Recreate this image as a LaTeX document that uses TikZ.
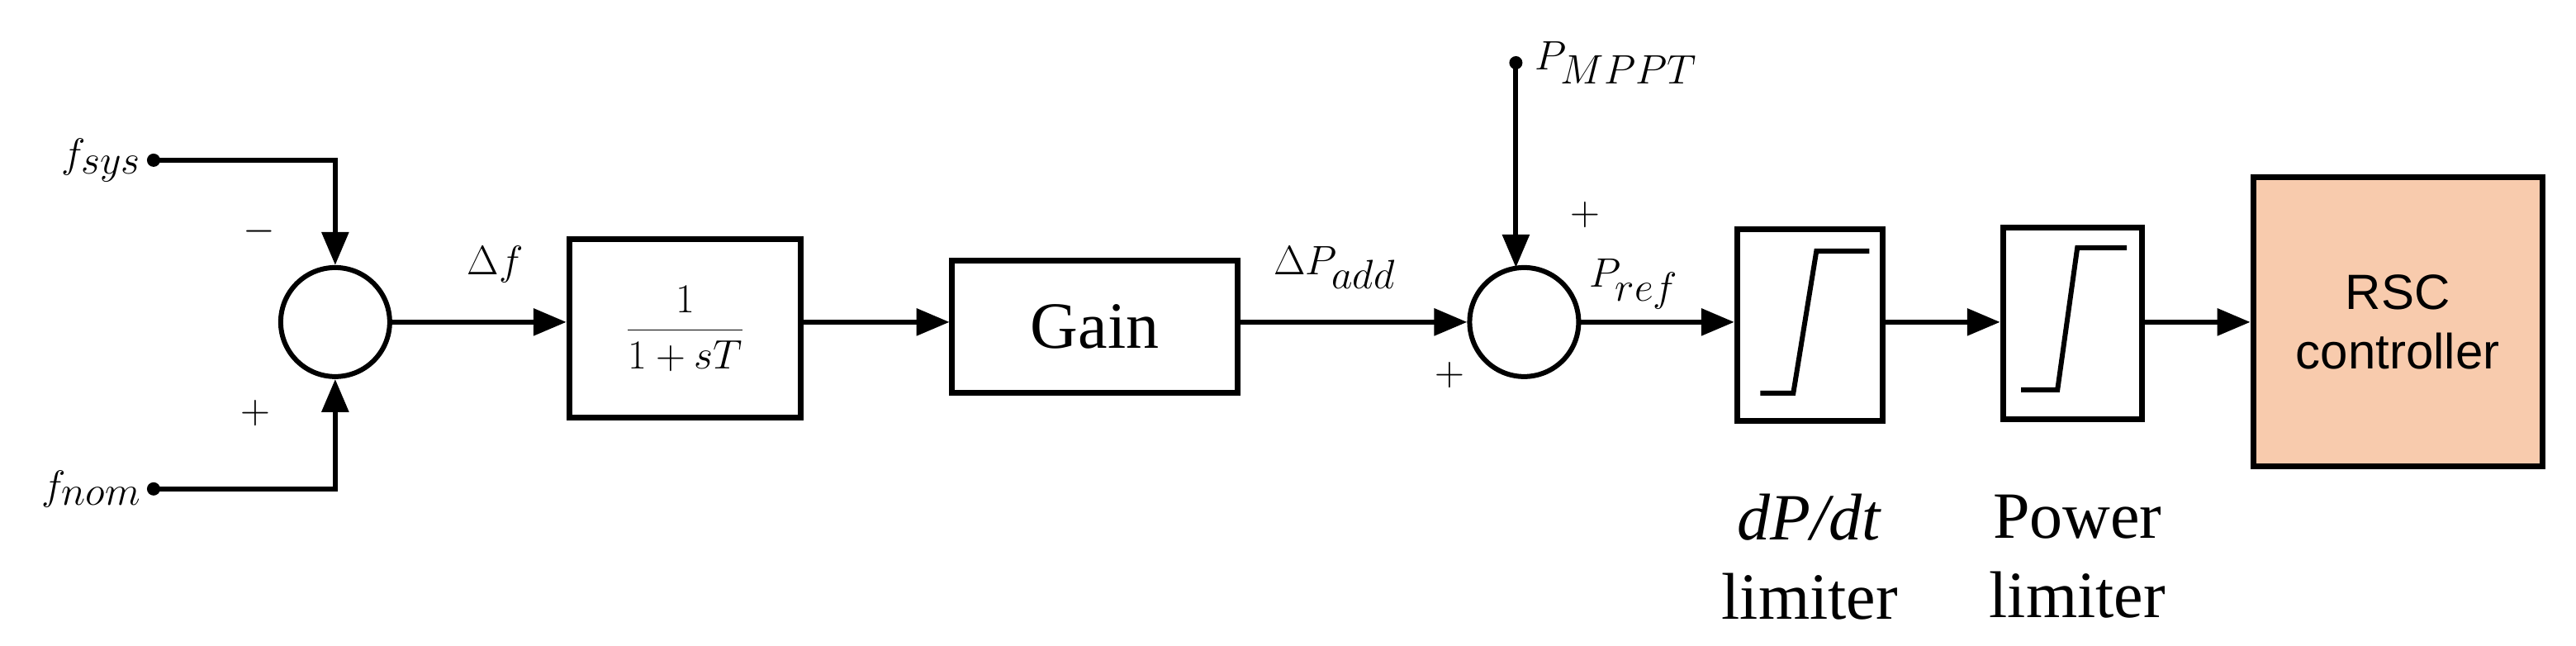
\documentclass[tikz,border=0pt]{standalone}
\usepackage{fontspec}
\setmainfont{Liberation Serif}
\newfontfamily\sansf{Liberation Sans}
\usetikzlibrary{arrows.meta}
\begin{document}
\begin{tikzpicture}[x=1pt,y=-1pt,line width=3pt,
 blk/.style={draw,line width=3.5pt,inner sep=0pt},
 arr/.style={-{Triangle[length=20pt,width=16pt]},line width=3pt},
 sumc/.style={draw,circle,minimum size=66pt,inner sep=0pt,line width=3pt},
 dot/.style={circle,fill,inner sep=0pt,minimum size=8pt},
 lab/.style={font=\fontsize{40}{44}\selectfont,inner sep=0pt},
 sgn/.style={font=\fontsize{34}{36}\selectfont,inner sep=0pt}]
\useasboundingbox (0,0) rectangle (1560,391);
% inputs
\node[dot] (fs) at (93,97) {};
\node[dot] (fn) at (93,296) {};
\node[lab,anchor=east] (fsl) at (87,97) {$f_{sys}$};
\node[lab,anchor=east] (fnl) at (87,296) {$f_{nom}$};
\node[sumc] (s1) at (203,195) {};
\draw[arr] (fs.center) -| (s1.north);
\draw[arr] (fn.center) -| (s1.south);
\node[sgn] (m1) at (157,140) {$-$};
\node[sgn] (p1) at (155,250) {$+$};
% TF block
\node[blk,minimum width=140pt,minimum height=108pt] (tf) at (415,199) {};
\node[font=\fontsize{34}{36}\selectfont,inner sep=0pt] (tft) at (415,199) {$\displaystyle\frac{1}{1+sT}$};
\draw[arr] (s1.east) -- (343,195) coordinate (tfin);
\node[lab] (df) at (300,160) {$\Delta f$};
% Gain
\node[blk,minimum width=173pt,minimum height=80pt,lab] (g) at (663,198) {Gain};
\draw[arr] (485,195) -- (575,195) coordinate (gin);
% sum 2
\node[sumc] (s2) at (923,195) {};
\draw[arr] (g.east|-0,195) -- (s2.west);
\node[lab,anchor=west] (dpa) at (770,162) {$\Delta P_{add}$};
\node[dot] (pm) at (918,38) {};
\draw[arr] (pm.center) -- (918,162) coordinate (s2n);
\node[lab,anchor=west] (pml) at (928,38) {$P_{MPPT}$};
\node[sgn] (p2) at (960,130) {$+$};
\node[sgn] (p3) at (878,227) {$+$};
% limiters
\node[blk,minimum width=88pt,minimum height=116pt] (l1) at (1096,197) {};
\node[blk,minimum width=84pt,minimum height=116pt] (l2) at (1255,196) {};
\draw (1066,238) -- (1086,238) -- (1100,152) -- (1132,152);
\draw (1224,236) -- (1246,236) -- (1258,150) -- (1288,150);
\draw[arr] (s2.east) -- (l1.west|-0,195);
\node[lab,anchor=west] (pr) at (961,172) {$P_{ref}$};
\draw[arr] (l1.east|-0,195) -- (l2.west|-0,195);
% RSC
\node[draw,line width=3.5pt,fill={rgb,255:red,248;green,203;blue,173},minimum width=175pt,minimum height=175pt,align=center,font=\sansf\fontsize{30}{36}\selectfont] (rsc) at (1452,195) {RSC\\controller};
\draw[arr] (l2.east|-0,195) -- (rsc.west|-0,195);
% labels below
\node[lab,align=center] (t1) at (1096,337) {\textit{dP/dt}\\[4pt]limiter};
\node[lab,align=center] (t2) at (1258,337) {Power\\[4pt]limiter};
\end{tikzpicture}
\end{document}
